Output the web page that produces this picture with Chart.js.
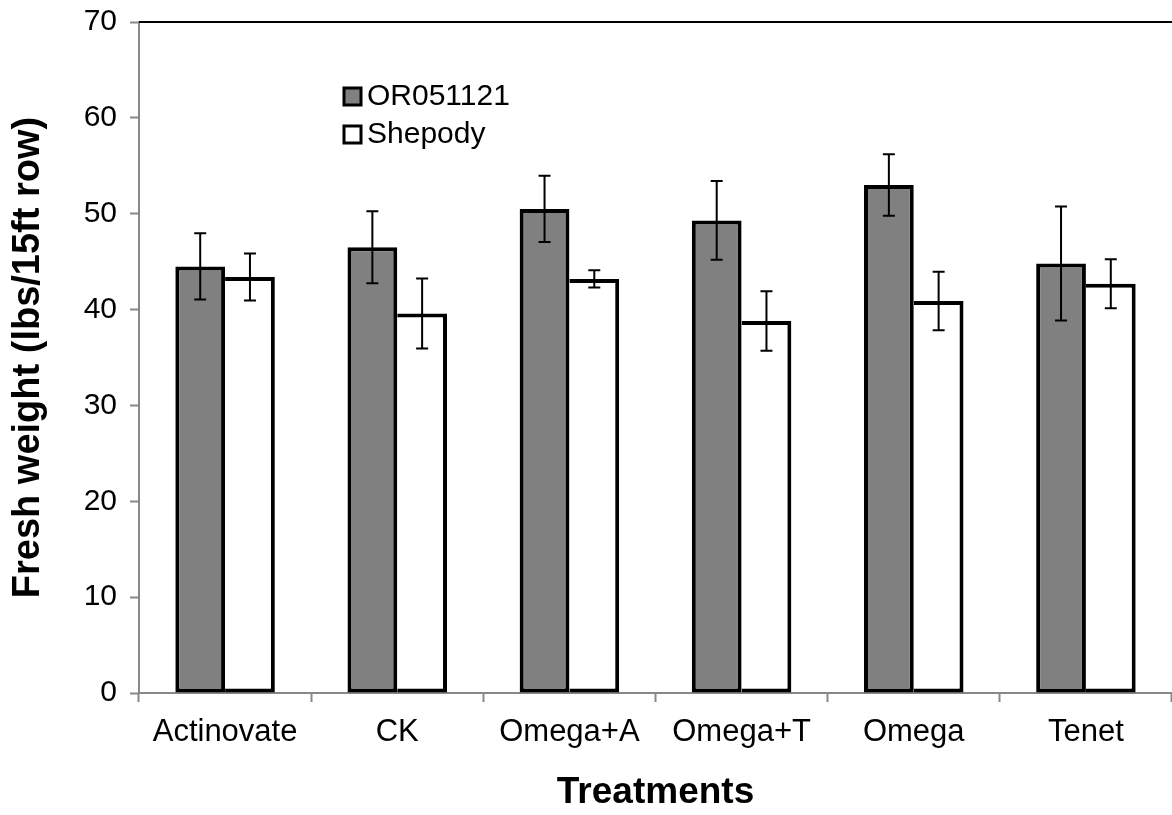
<!DOCTYPE html>
<html>
<head>
<meta charset="utf-8">
<script src="https://cdn.jsdelivr.net/npm/chart.js@4"></script>
<style>
    html, body { margin: 0; padding: 0; background: #ffffff; }
    #wrap { width: 1172px; height: 815px; position: relative; }
</style>
</head>
<body>
<div id="wrap"><canvas id="barChart"></canvas></div>
<script>
const treatments = ["Actinovate", "CK", "Omega+A", "Omega+T", "Omega", "Tenet"];
const orValues = [44.5, 46.5, 50.5, 49.3, 53.0, 44.8];
const orErrors = [3.45, 3.75, 3.45, 4.1, 3.2, 5.95];
const shepodyValues = [43.4, 39.6, 43.2, 38.8, 40.9, 42.7];
const shepodyErrors = [2.45, 3.65, 0.9, 3.1, 3.05, 2.55];
const yTicks = [0, 10, 20, 30, 40, 50, 60, 70];

const fontFamily = "'Liberation Sans', Arial, sans-serif";
const axisGray = "#888888";

// error bars drawn on top of the bars, from the y scale
const errorBars = {
    id: "errorBars",
    afterDatasetsDraw(chart) {
        const ctx = chart.ctx;
        const yScale = chart.scales.y;
        ctx.save();
        ctx.strokeStyle = "#000000";
        ctx.lineWidth = 2;
        chart.data.datasets.forEach((ds, i) => {
            const meta = chart.getDatasetMeta(i);
            meta.data.forEach((bar, j) => {
                const v = ds.data[j];
                const e = ds.errors[j];
                const top = yScale.getPixelForValue(v + e);
                const bottom = yScale.getPixelForValue(v - e);
                const cap = 6;
                ctx.beginPath();
                ctx.moveTo(bar.x, top);
                ctx.lineTo(bar.x, bottom);
                ctx.moveTo(bar.x - cap, top);
                ctx.lineTo(bar.x + cap, top);
                ctx.moveTo(bar.x - cap, bottom);
                ctx.lineTo(bar.x + cap, bottom);
                ctx.stroke();
            });
        });
        ctx.restore();
    },
};

// top frame line and the legend inside the plot
const frameAndLegend = {
    id: "frameAndLegend",
    afterDraw(chart) {
        const ctx = chart.ctx;
        const area = chart.chartArea;
        ctx.save();
        ctx.strokeStyle = "#000000";
        ctx.lineWidth = 2;
        ctx.beginPath();
        ctx.moveTo(area.left, area.top);
        ctx.lineTo(area.right, area.top);
        ctx.stroke();

        const rows = [96, 134];
        chart.data.datasets.forEach((ds, i) => {
            const y = rows[i];
            ctx.fillStyle = ds.backgroundColor;
            ctx.fillRect(344, y - 8, 17, 17);
            ctx.lineWidth = 3;
            ctx.strokeStyle = "#000000";
            ctx.strokeRect(344, y - 8, 17, 17);
            ctx.fillStyle = "#000000";
            ctx.font = "30px " + fontFamily;
            ctx.textAlign = "left";
            ctx.textBaseline = "middle";
            ctx.fillText(ds.label, 367, y + 1);
        });
        ctx.restore();
    },
};

const barCtx = document.getElementById("barChart").getContext("2d");
new Chart(barCtx, {
    type: "bar",
    data: {
        labels: treatments,
        datasets: [
            {
                label: "OR051121",
                data: orValues,
                errors: orErrors,
                backgroundColor: "#808080",
                borderColor: "#000000",
                borderWidth: 4,
                borderSkipped: false,
                categoryPercentage: 0.578,
                barPercentage: 1.0,
            },
            {
                label: "Shepody",
                data: shepodyValues,
                errors: shepodyErrors,
                backgroundColor: "#ffffff",
                borderColor: "#000000",
                borderWidth: 4,
                borderSkipped: "left",
                categoryPercentage: 0.578,
                barPercentage: 1.0,
            },
        ],
    },
    options: {
        responsive: true,
        maintainAspectRatio: false,
        animation: false,
        layout: {
            padding: { top: 22, right: 0, left: 0, bottom: 0 },
        },
        plugins: {
            legend: { display: false },
            tooltip: { enabled: false },
        },
        scales: {
            x: {
                afterFit(scale) {
                    scale.height = 122;
                    scale.paddingLeft = 0;
                    scale.paddingRight = 0;
                },
                grid: {
                    drawOnChartArea: false,
                    drawTicks: true,
                    tickLength: 9,
                    tickColor: axisGray,
                    tickWidth: 2,
                    offset: true,
                },
                border: { color: axisGray, width: 2 },
                ticks: {
                    color: "#000000",
                    padding: 12,
                    maxRotation: 0,
                    font: { family: fontFamily, size: 31 },
                },
                title: {
                    display: true,
                    text: "Treatments",
                    color: "#000000",
                    padding: { top: 0, bottom: 0 },
                    font: { family: fontFamily, size: 37, weight: "bold" },
                },
            },
            y: {
                min: 0,
                max: 70,
                afterFit(scale) {
                    scale.width = 139;
                    scale.paddingTop = 0;
                    scale.paddingBottom = 0;
                },
                afterBuildTicks(scale) {
                    scale.ticks = yTicks.map((v) => ({ value: v }));
                },
                grid: {
                    drawOnChartArea: false,
                    drawTicks: true,
                    tickLength: 9,
                    tickColor: axisGray,
                    tickWidth: 2,
                },
                border: { color: axisGray, width: 2 },
                ticks: {
                    color: "#000000",
                    padding: 13,
                    font: { family: fontFamily, size: 30 },
                },
                title: {
                    display: true,
                    text: "Fresh weight (lbs/15ft row)",
                    color: "#000000",
                    padding: { top: 6, bottom: 0 },
                    font: { family: fontFamily, size: 38, weight: "bold" },
                },
            },
        },
    },
    plugins: [errorBars, frameAndLegend],
});
</script>
</body>
</html>
